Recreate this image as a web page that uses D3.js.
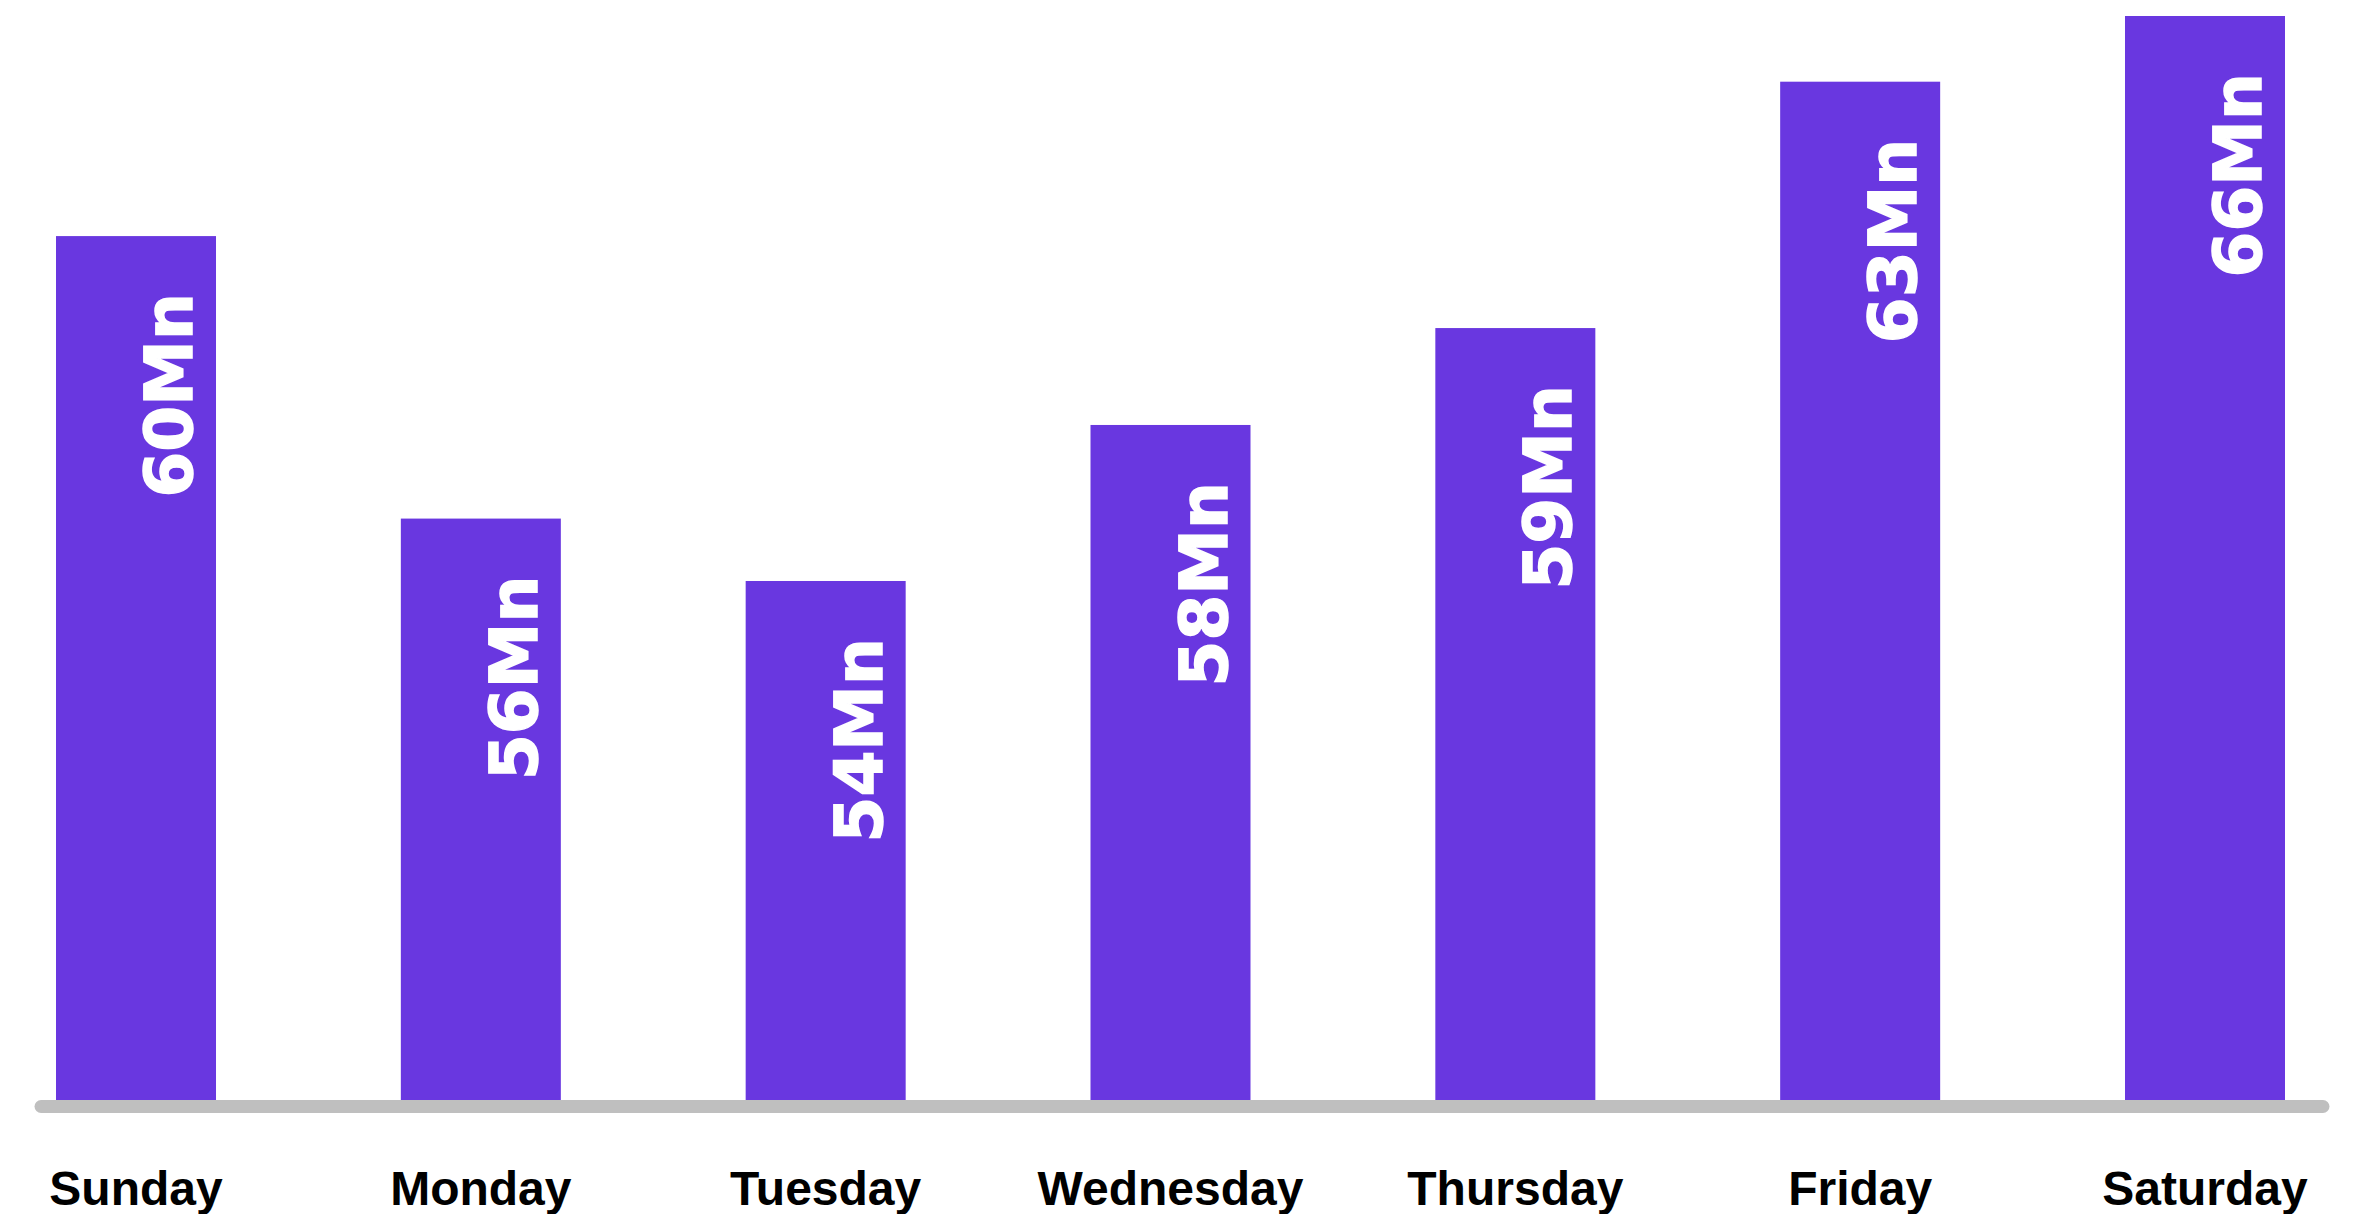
<!DOCTYPE html>
<html>
<head>
<meta charset="utf-8">
<script src="https://cdn.jsdelivr.net/npm/d3@7"></script>
<style>
    html, body { margin: 0; padding: 0; background: #ffffff; }
    #chart { width: 2362px; height: 1214px; }
    .day-label { font-family: "Liberation Sans", Arial, sans-serif; font-weight: bold; font-size: 48px; fill: #000000; }
    .value-label { font-family: "DejaVu Sans", sans-serif; font-weight: bold; font-size: 66px; fill: #ffffff; stroke: #ffffff; stroke-width: 1.5px; }
</style>
</head>
<body>
<div id="chart"></div>
<script>
// Days along the x axis
const days = ["Sunday", "Monday", "Tuesday", "Wednesday", "Thursday", "Friday", "Saturday"];
// Labels as printed on the bars (millions)
const labels = [60, 56, 54, 58, 59, 63, 66];
// Bar lengths as drawn in the picture (same units)
const barValues = [52.6, 35.4, 31.6, 41.1, 47.0, 62.0, 66.0];

const width = 2362;
const height = 1214;
const baseY = 1100;
const topY = 16;

const svg = d3.select("#chart")
    .append("svg")
    .attr("width", width)
    .attr("height", height);

const x = d3.scaleBand()
    .domain(days)
    .range([56, 2285])
    .paddingInner(0.536)
    .paddingOuter(0);

const y = d3.scaleLinear()
    .domain([0, 66])
    .range([baseY, topY]);

const rows = days.map((d, i) => ({ day: d, value: barValues[i], label: labels[i] }));

// bars
svg.selectAll("rect.bar")
    .data(rows)
    .enter()
    .append("rect")
    .attr("class", "bar")
    .attr("x", d => x(d.day))
    .attr("y", d => y(d.value))
    .attr("width", x.bandwidth())
    .attr("height", d => baseY - y(d.value))
    .attr("fill", "#6937e0");

// rotated value labels inside the bars
svg.selectAll("text.value-label")
    .data(rows)
    .enter()
    .append("text")
    .attr("class", "value-label")
    .attr("text-anchor", "end")
    .attr("transform", d => `translate(${x(d.day) + x.bandwidth() - 24}, ${y(d.value) + 57}) rotate(-90)`)
    .text(d => d.label + "Mn");

// grey baseline with rounded ends
svg.append("line")
    .attr("x1", 41)
    .attr("x2", 2323)
    .attr("y1", baseY + 6.5)
    .attr("y2", baseY + 6.5)
    .attr("stroke", "#bfbfbf")
    .attr("stroke-width", 13)
    .attr("stroke-linecap", "round");

// day labels
svg.selectAll("text.day-label")
    .data(rows)
    .enter()
    .append("text")
    .attr("class", "day-label")
    .attr("text-anchor", "middle")
    .attr("x", d => x(d.day) + x.bandwidth() / 2)
    .attr("y", 1205)
    .text(d => d.day);
</script>
</body>
</html>
